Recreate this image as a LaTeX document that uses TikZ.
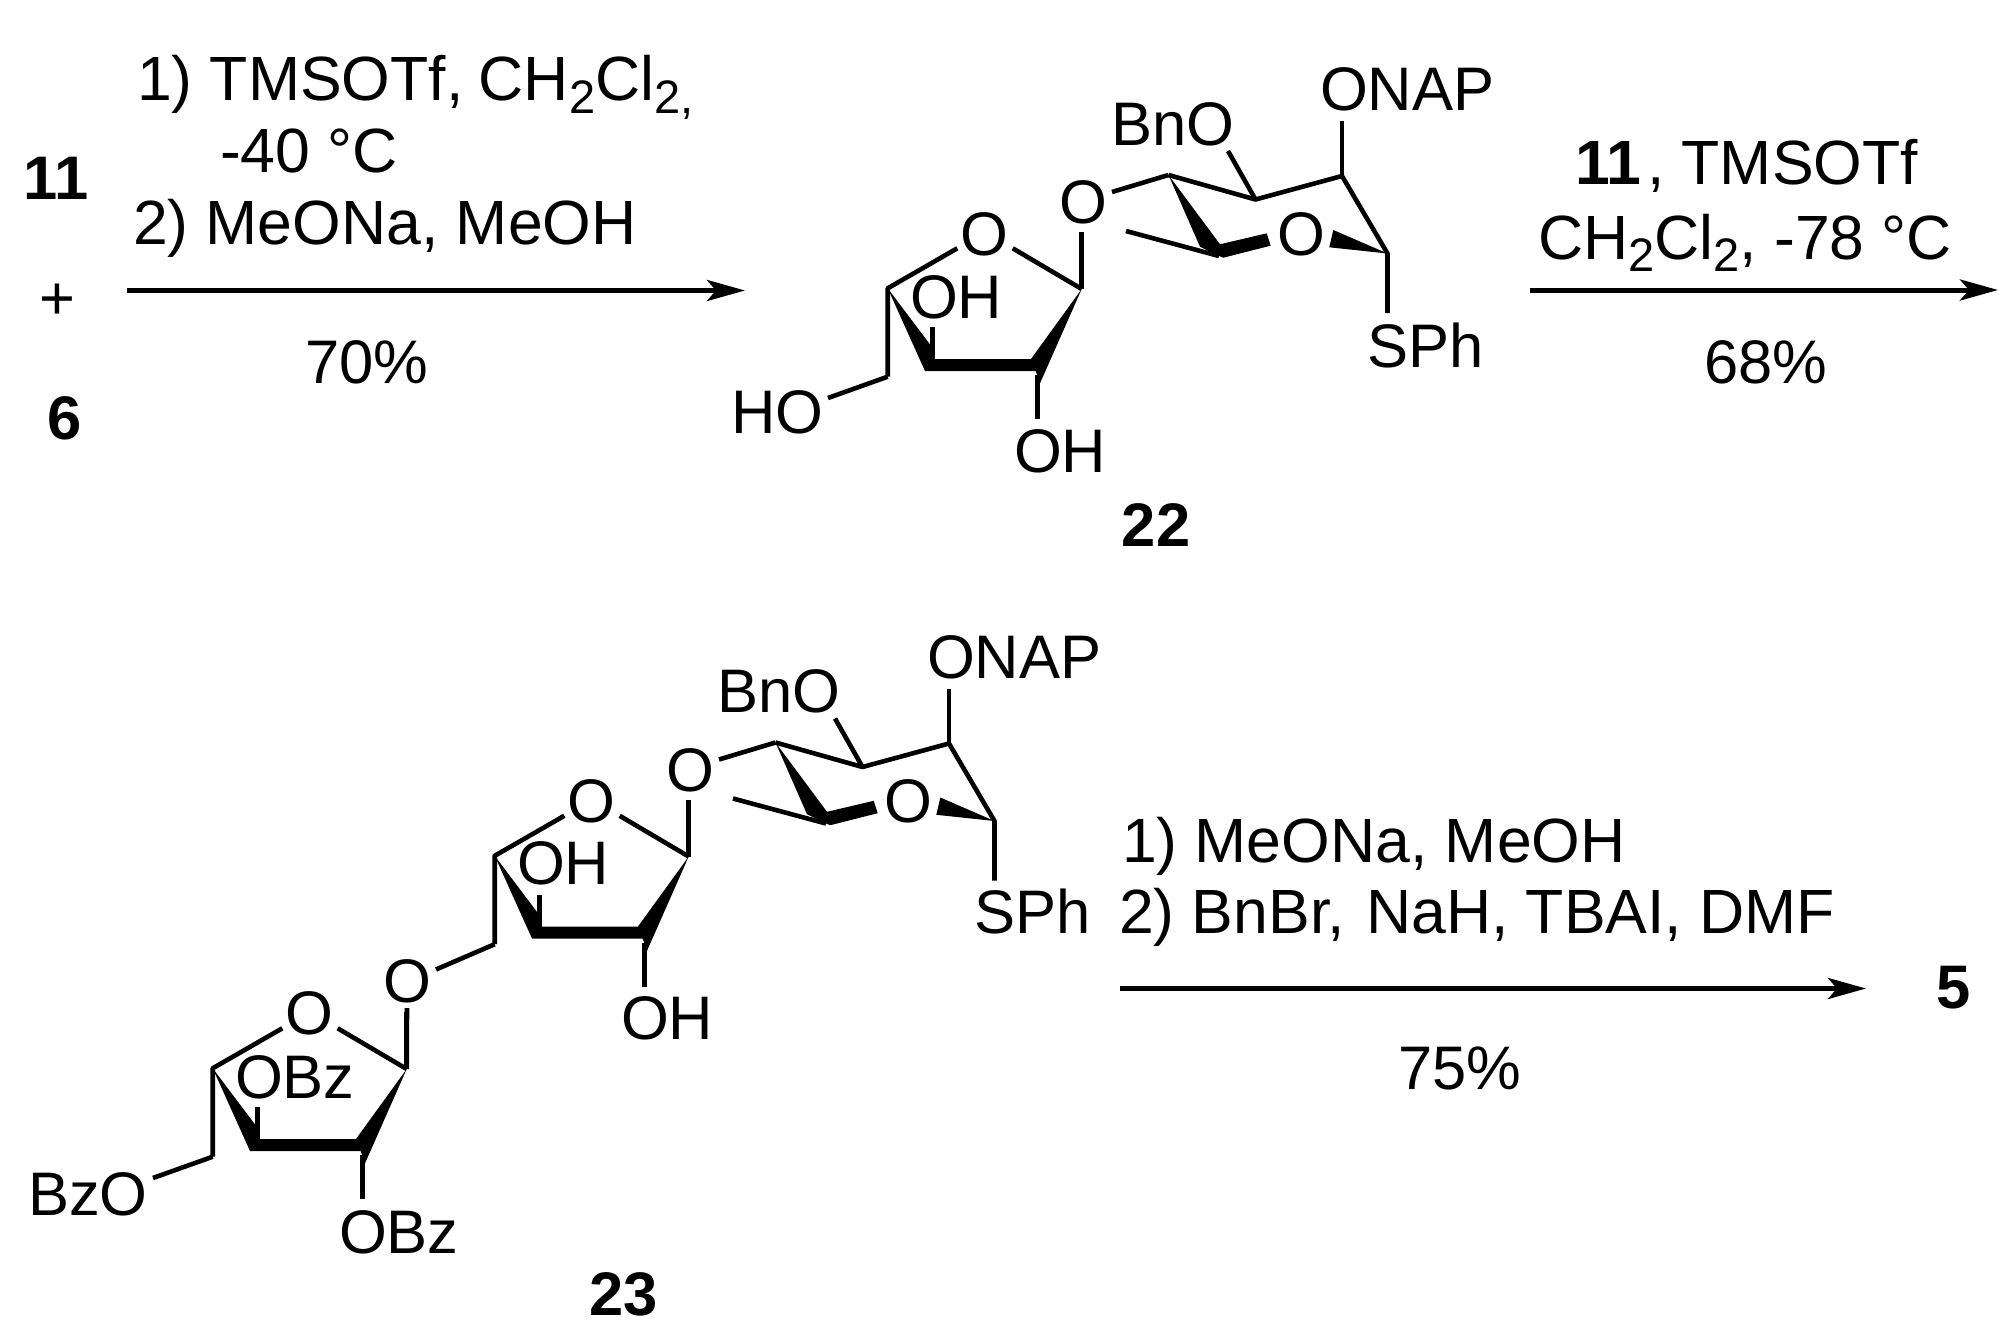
\documentclass[tikz,border=0pt]{standalone}
\usepackage{fontspec}
\setmainfont{Liberation Sans}
\usetikzlibrary{arrows.meta}
\newcommand{\subtwo}{\raisebox{-13pt}{\fontsize{47}{50}\selectfont 2}}
\newcommand{\subtwocomma}{\raisebox{-13pt}{\fontsize{47}{50}\selectfont 2,}}
\newcommand{\rhamring}{%
  \coordinate (c1) at (1387.5,253.5);
  \coordinate (c2) at (1342,176);
  \coordinate (c3) at (1255.5,199.5);
  \coordinate (c4) at (1168.5,175);
  \coordinate (c5) at (1219,256);
  \coordinate (onapend) at (1342,121);
  \coordinate (bnoend) at (1228,151);
  \coordinate (sphend) at (1387.5,313);
  \coordinate (olink) at (1112,192);
  \coordinate (meend) at (1126,231);
  \draw[bond] (c4) -- (c3) -- (c2) -- (c1) -- (sphend);
  \draw[bond] (c2) -- (onapend);
  \draw[bond] (c3) -- (bnoend);
  \draw[bond] (olink) -- (c4);
  \draw[bond] (meend) -- (c5);
  \fill[wedgefill] (c4) -- (1200,246.7) -- (1215,254.3) -- (1223.3,257.7) -- (1270.7,245.7) -- (1266.7,233.3) -- (1220,244.3) -- cycle;
  \fill[wedgefill] (c1) -- (1333.3,230) -- (1329.3,247.3) -- cycle;
}
\newcommand{\furring}{%
  \coordinate (f1) at (1081.7,289);
  \coordinate (f4) at (887.7,288.3);
  \coordinate (f5) at (887.7,376.7);
  \coordinate (fup) at (1081.7,232);
  \coordinate (foa) at (1012.7,248.3);
  \coordinate (fob) at (957.3,248.3);
  \coordinate (fohu) at (932.7,327);
  \coordinate (fohub) at (932.7,359);
  \coordinate (fohl) at (1037.3,419);
  \coordinate (fohlb) at (1037.3,375);
  \draw[bond] (f1) -- (fup);
  \draw[bond] (foa) -- (f1);
  \draw[bond] (fob) -- (f4) -- (f5);
  \draw[bond] (fohu) -- (fohub);
  \draw[bond] (fohlb) -- (fohl);
  \fill[wedgefill] (f4) -- (931.7,346.7) -- (934,359) -- (1031,359) -- (f1) -- (1040,383.3) -- (1035.7,371) -- (925,371) -- cycle;
}
\tikzset{
  bond/.style={line width=4.6pt,line join=round,line cap=butt},
  wedgefill/.style={fill=black},
  lbl/.style={inner sep=0pt,outer sep=0pt,anchor=base west,font=\fontsize{61.5}{70}\selectfont},
  lblc/.style={inner sep=0pt,outer sep=0pt,anchor=base,font=\fontsize{61.5}{70}\selectfont},
  reag/.style={inner sep=0pt,outer sep=0pt,anchor=base west,font=\fontsize{62.5}{70}\selectfont},
  num/.style={inner sep=0pt,outer sep=0pt,anchor=base,font=\fontsize{61.5}{70}\selectfont\bfseries},
  rxn/.style={line width=5pt,-{Stealth[length=38pt,width=21pt,inset=9pt]}},
}
\begin{document}
\begin{tikzpicture}[x=1pt,y=-1pt]
\useasboundingbox (0,0) rectangle (2014,1343);
% first line
\node[num] (n11) at (56,199.5) {11};
\node[lblc] (plus) at (57,319) {+};
\node[num] (n6) at (65,439.5) {6};
\node[reag] (r1a) at (137,100.5) {1) TMSOTf,\kern-2pt{} CH\subtwo Cl\subtwocomma};
\node[reag] (r1b) at (220,172.5) {-40 °C};
\node[reag] (r1c) at (133,245) {2) MeONa, MeOH};
\coordinate (a1s) at (127,290.5);
\coordinate (a1e) at (745,290.5);
\draw[rxn] (a1s) -- (a1e);
\node[lblc] (y1) at (367,383) {70\%};
% compound 22
\begin{scope}[name prefix=p-]
  \rhamring
  \furring
\end{scope}
\node[lbl] (onap1) at (1320,111) {ONAP};
\node[lbl] (bno1) at (1111,146) {BnO};
\node[lbl] (sph1) at (1367,367) {SPh};
\node[lblc] (ro1) at (1301,255) {O};
\node[lblc] (lo1) at (1083,224) {O};
\node[lblc] (fo1) at (984.5,255) {O};
\node[lbl] (ohu1) at (910,318.5) {OH};
\node[lbl] (ohl1) at (1014,472) {OH};
\node[lbl] (ho1) at (731,433) {HO};
\coordinate (hoe1) at (828,398);
\draw[bond] (p-f5) -- (hoe1);
\node[num] (n22) at (1156,546) {22};
% arrow 2
\node[reag] (r2a) at (1575,185) {\textbf{11}\kern6pt, TMSOTf};
\node[reag] (r2b) at (1538,259) {CH\subtwo Cl\subtwo, -78 °C};
\coordinate (a2s) at (1530,290);
\coordinate (a2e) at (1998,290);
\draw[rxn] (a2s) -- (a2e);
\node[lblc] (y2) at (1766,383) {68\%};
% compound 23
\begin{scope}[shift={(-393,567.5)},name prefix=q-]
  \rhamring
  \furring
\end{scope}
\node[lbl] (onap2) at (927,678.5) {ONAP};
\node[lbl] (bno2) at (717,712.5) {BnO};
\node[lbl] (sph2) at (974,933) {SPh};
\node[lblc] (ro2) at (908,822) {O};
\node[lblc] (lo2) at (690,791) {O};
\node[lblc] (fo2) at (591.5,822.5) {O};
\node[lbl] (ohu2) at (517,884.5) {OH};
\node[lbl] (ohl2) at (621,1039) {OH};
\node[lblc] (lo3) at (407,1002) {O};
\coordinate (oe2a) at (436,969.5);
\coordinate (oe2b) at (407,1008);
\begin{scope}[shift={(-675,780)},name prefix=s-]
  \furring
\end{scope}
\draw[bond] (q-f5) -- (oe2a);
\draw[bond] (oe2b) -- (s-f1);
\node[lblc] (fo3) at (309.5,1034) {O};
\node[lbl] (obzu) at (235,1098.5) {OBz};
\node[lbl] (obzl) at (339,1253) {OBz};
\node[lbl] (bzo) at (28,1215) {BzO};
\coordinate (bzoe) at (153,1178);
\draw[bond] (s-f5) -- (bzoe);
\node[num] (n23) at (624,1315) {23};
% arrow 3
\node[reag] (r3a) at (1122,862) {1) MeONa, MeOH};
\node[reag] (r3b) at (1119,933) {2) BnBr,\kern4pt{} NaH, TBAI, DMF};
\coordinate (a3s) at (1120,988.5);
\coordinate (a3e) at (1866,988.5);
\draw[rxn] (a3s) -- (a3e);
\node[lblc] (y3) at (1460,1089) {75\%};
\node[num] (n5) at (1954,1008) {5};
\end{tikzpicture}
\end{document}
